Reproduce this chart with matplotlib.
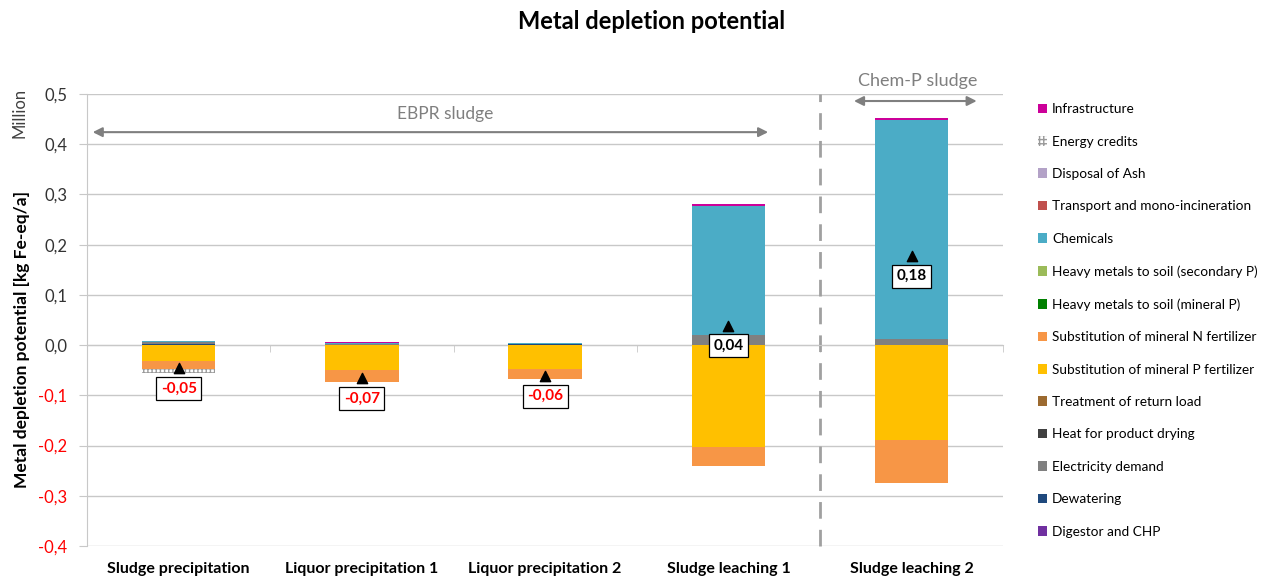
import numpy as np
import matplotlib
matplotlib.use('Agg')
from matplotlib import pyplot as plt
from matplotlib.patches import Patch
import matplotlib.transforms as mtransforms

plt.rcParams['font.family'] = ['Lato', 'DejaVu Sans']

# values in million kg Fe-eq/a
categories = ['Sludge precipitation', 'Liquor precipitation 1', 'Liquor precipitation 2',
              'Sludge leaching 1', 'Sludge leaching 2']

digestor = [0.0005, 0.0005, 0.0005, 0.0, 0.0]
dewatering = [0.001, 0.0005, 0.001, 0.0, 0.0]
electricity = [0.005, 0.001, 0.001, 0.020, 0.013]
heat_drying = [0.0, 0.0, 0.0, 0.0, 0.0]
return_load = [0.0, 0.0, 0.0, 0.0, 0.0]
p_fertilizer = [-0.032, -0.050, -0.047, -0.2025, -0.189]
n_fertilizer = [-0.016, -0.0225, -0.020, -0.0385, -0.0855]
hm_mineral = [0.0, 0.0005, 0.0005, 0.0, 0.0]
hm_secondary = [0.0, 0.0, 0.0, 0.0, 0.0]
chemicals = [0.001, 0.001, 0.001, 0.257, 0.436]
transport = [0.0, 0.0, 0.0, 0.0, 0.0]
ash_disposal = [0.0, 0.0, 0.0, 0.0, 0.0]
energy_credits = [-0.007, 0.0, 0.0, -0.0005, -0.0005]
infrastructure = [0.001, 0.0025, 0.001, 0.003, 0.003]

# stacking order bottom -> top
series = [
  ('Digestor and CHP', digestor, '#7030A0'),
  ('Dewatering', dewatering, '#1F497D'),
  ('Electricity demand', electricity, '#808080'),
  ('Heat for product drying', heat_drying, '#404040'),
  ('Treatment of return load', return_load, '#9C6A30'),
  ('Substitution of mineral P fertilizer', p_fertilizer, '#FFC000'),
  ('Substitution of mineral N fertilizer', n_fertilizer, '#F79646'),
  ('Heavy metals to soil (mineral P)', hm_mineral, '#008000'),
  ('Heavy metals to soil (secondary P)', hm_secondary, '#9BBB59'),
  ('Chemicals', chemicals, '#4BACC6'),
  ('Transport and mono-incineration', transport, '#C0504D'),
  ('Disposal of Ash', ash_disposal, '#B3A2C7'),
  ('Energy credits', energy_credits, 'hatch'),
  ('Infrastructure', infrastructure, '#CC0099'),
]

fig = plt.figure(figsize=(12.7, 5.78), dpi=100)
ax = fig.add_axes([0.0685, 0.0554, 0.7215, 0.782])

x = np.arange(len(categories))
pos_bottom = np.zeros(len(categories))
neg_bottom = np.zeros(len(categories))
handles = []
for name, vals, color in series:
  vals = np.array(vals)
  bottom = np.where(vals >= 0, pos_bottom, neg_bottom)
  if color == 'hatch':
    ax.bar(x, vals, 0.4, bottom=bottom, facecolor='white', edgecolor='#9A9A9A',
           hatch='++++', linewidth=0, zorder=3)
    handles.append(Patch(facecolor='white', edgecolor='#9A9A9A', hatch='++++', linewidth=0, label=name))
  else:
    ax.bar(x, vals, 0.4, bottom=bottom, color=color, linewidth=0, zorder=3)
    handles.append(Patch(facecolor=color, edgecolor='none', label=name))
  pos_bottom += np.where(vals >= 0, vals, 0)
  neg_bottom += np.where(vals < 0, vals, 0)

net = pos_bottom + neg_bottom
ax.scatter(x, net, marker='^', s=55, color='black', zorder=6)
for xi, v in zip(x, net):
  ax.annotate(f'{v:.2f}'.replace('.', ','), (xi, v), xytext=(0, -20), textcoords='offset pixels',
              ha='center', va='center', fontsize=11, fontweight='bold',
              color='red' if v < 0 else 'black', zorder=7,
              bbox=dict(boxstyle='square,pad=0.3', fc='white', ec='black', lw=0.9))

yticks = np.round(np.arange(-0.4, 0.51, 0.1), 1)
ax.set_xlim(-0.5, 4.5)
ax.set_ylim(-0.4, 0.5)
ax.set_yticks(yticks)
ax.set_yticklabels([f'{t + 0.0:.1f}'.replace('.', ',') for t in yticks], fontsize=12)
for lab, t in zip(ax.get_yticklabels(), yticks):
  lab.set_color('red' if t < 0 else '#333333')
ax.yaxis.grid(True, color='#C8C8C8', lw=1, zorder=0)
ax.tick_params(axis='y', length=6, color='#C8C8C8', pad=8)

for s in ['top', 'right']:
  ax.spines[s].set_visible(False)
ax.spines['left'].set_color('#C8C8C8')
ax.spines['bottom'].set_position(('data', 0))
ax.spines['bottom'].set_color('#C8C8C8')
ax.set_xticks([])
ax.set_xticks(np.arange(-0.5, 4.6, 1), minor=True)
ax.tick_params(axis='x', which='minor', length=5, color='#C8C8C8', direction='out')

trans = mtransforms.blended_transform_factory(ax.transData, ax.transAxes)
for xi, c in zip(x, categories):
  ax.text(xi, -0.05, c, transform=trans, ha='center', va='center', fontsize=11.5, fontweight='bold')

# group separators
ax.axvline(3.5, color='#A0A0A0', lw=2, dashes=(6, 4), zorder=2, clip_on=False)
ax.annotate('', xy=(-0.484, 0.424), xytext=(3.232, 0.424),
            arrowprops=dict(arrowstyle='<|-|>', color='#7F7F7F', lw=1.5, mutation_scale=14))
ax.text(1.456, 0.46, 'EBPR sludge', ha='center', va='center', fontsize=12.5, color='#7F7F7F')
ax.annotate('', xy=(3.67, 0.486), xytext=(4.37, 0.486), annotation_clip=False,
            arrowprops=dict(arrowstyle='<|-|>', color='#7F7F7F', lw=1.5, mutation_scale=14))
ax.text(4.035, 0.526, 'Chem-P sludge', ha='center', va='center', fontsize=13, color='#7F7F7F', clip_on=False)

fig.text(0.513, 0.962, 'Metal depletion potential', ha='center', va='center', fontsize=17, fontweight='bold')
fig.text(0.017, 0.413, 'Metal depletion potential [kg Fe-eq/a]', rotation=90, ha='center', va='center',
         fontsize=12.5, fontweight='bold')
fig.text(0.015, 0.805, 'Million', rotation=90, ha='center', va='center', fontsize=12, color='#404040')

fig.legend(handles=handles[::-1], loc='upper left', bbox_to_anchor=(0.813, 0.831), frameon=False,
           fontsize=9.8, handlelength=0.7, handleheight=0.7, handletextpad=0.35, labelspacing=1.5,
           borderaxespad=0)

fig.savefig('out.png', dpi=100)
